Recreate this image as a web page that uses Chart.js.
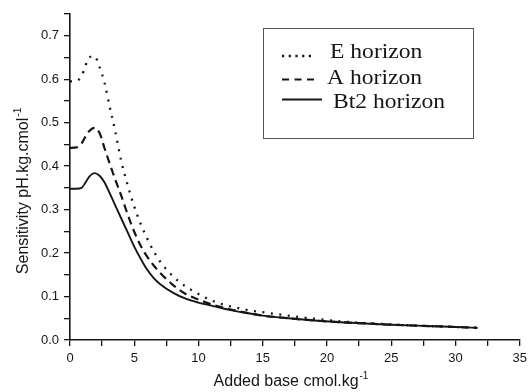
<!DOCTYPE html>
<html><head><meta charset="utf-8">
<script src="https://cdn.jsdelivr.net/npm/chart.js@4"></script>
<style>html,body{margin:0;padding:0;background:#fff}#wrap{width:532px;height:392px}</style>
</head><body><div id="wrap"><canvas id="c" width="532" height="392"></canvas></div>
<script>
// Added base (cmol/kg)
const addedBase = [0, 0.5, 0.9, 1.2, 1.5, 1.9, 2.3, 2.7, 3.1, 3.5, 4, 4.5, 5, 5.5, 6, 6.5, 7, 8, 9, 10, 11, 12, 13, 14, 15, 17, 19, 21, 23, 25, 27, 29, 31.7];
// Sensitivity (pH.kg/cmol)
const eHorizon   = [0.595, 0.596, 0.607, 0.631, 0.650, 0.653, 0.628, 0.590, 0.535, 0.483, 0.410, 0.355, 0.307, 0.267, 0.234, 0.205, 0.181, 0.147, 0.123, 0.106, 0.091, 0.081, 0.074, 0.068, 0.064, 0.056, 0.049, 0.043, 0.039, 0.036, 0.033, 0.031, 0.028];
const aHorizon   = [0.442, 0.443, 0.452, 0.468, 0.481, 0.488, 0.476, 0.440, 0.405, 0.371, 0.331, 0.288, 0.249, 0.217, 0.192, 0.172, 0.155, 0.127, 0.106, 0.093, 0.082, 0.074, 0.067, 0.061, 0.056, 0.050, 0.045, 0.041, 0.038, 0.035, 0.033, 0.031, 0.028];
const bt2Horizon = [0.348, 0.348, 0.350, 0.362, 0.376, 0.384, 0.378, 0.362, 0.337, 0.311, 0.279, 0.247, 0.215, 0.187, 0.162, 0.143, 0.129, 0.109, 0.095, 0.086, 0.079, 0.072, 0.066, 0.061, 0.056, 0.050, 0.045, 0.041, 0.038, 0.035, 0.033, 0.031, 0.028];
const seriesNames = ['E horizon', 'A horizon', 'Bt2 horizon'];
const xTitle = ['Added base cmol.kg', '-1'];
const yTitle = ['Sensitivity pH.kg.cmol', '-1'];

const INK = '#161616';
const pts = ys => addedBase.map((x, i) => ({x, y: ys[i]}));

const styles = [
  {borderDash: [2, 6.5], borderWidth: 2.3, legendDash: [2.2, 4.5]},
  {borderDash: [8, 5], borderWidth: 2.2, legendDash: [7, 5.5]},
  {borderDash: [], borderWidth: 1.9, legendDash: []}
];

const titlesPlugin = {
  id: 'titles',
  afterDraw(chart) {
    const ctx = chart.ctx;
    function supText(main, sup, size) {
      ctx.font = size + 'px "Liberation Sans", Arial, sans-serif';
      const w1 = ctx.measureText(main).width;
      ctx.font = Math.round(size * 0.62) + 'px "Liberation Sans", Arial, sans-serif';
      const w2 = ctx.measureText(sup).width;
      const start = -(w1 + w2 + 1) / 2;
      ctx.font = size + 'px "Liberation Sans", Arial, sans-serif';
      ctx.fillText(main, start, 0);
      ctx.font = Math.round(size * 0.62) + 'px "Liberation Sans", Arial, sans-serif';
      ctx.fillText(sup, start + w1 + 1, -size * 0.45);
    }
    ctx.save();
    ctx.fillStyle = INK;
    ctx.textBaseline = 'alphabetic';
    ctx.textAlign = 'left';
    ctx.save();
    ctx.translate(291, 386);
    supText(xTitle[0], xTitle[1], 16);
    ctx.restore();
    ctx.save();
    ctx.translate(28, 191);
    ctx.rotate(-Math.PI / 2);
    supText(yTitle[0], yTitle[1], 16);
    ctx.restore();
    ctx.restore();
  }
};

const legendPlugin = {
  id: 'boxLegend',
  afterDraw(chart) {
    const ctx = chart.ctx;
    ctx.save();
    ctx.strokeStyle = '#555';
    ctx.lineWidth = 1;
    ctx.strokeRect(263.5, 28.5, 210, 110);
    const rows = [
      {sy: 56, x0: 282, x1: 311, tx: 330, ty: 58},
      {sy: 79.5, x0: 282, x1: 319, tx: 327, ty: 84},
      {sy: 99.5, x0: 282, x1: 322, tx: 333, ty: 107.5}
    ];
    chart.data.datasets.forEach((ds, i) => {
      const r = rows[i];
      ctx.strokeStyle = ds.borderColor;
      ctx.lineWidth = styles[i].borderWidth;
      ctx.setLineDash(styles[i].legendDash);
      ctx.beginPath();
      ctx.moveTo(r.x0, r.sy);
      ctx.lineTo(r.x1, r.sy);
      ctx.stroke();
      ctx.setLineDash([]);
      ctx.save();
      ctx.fillStyle = INK;
      ctx.font = '20px "Liberation Serif", "Times New Roman", serif';
      ctx.textBaseline = 'alphabetic';
      ctx.textAlign = 'left';
      ctx.translate(r.tx, r.ty);
      ctx.scale(1.18, 1);
      ctx.fillText(ds.label, 0, 0);
      ctx.restore();
    });
    ctx.restore();
  }
};

const seriesData = [eHorizon, aHorizon, bt2Horizon];
new Chart(document.getElementById('c'), {
  type: 'line',
  data: {
    datasets: seriesData.map((ys, i) => ({
      label: seriesNames[i],
      data: pts(ys),
      borderColor: INK,
      borderWidth: styles[i].borderWidth,
      borderDash: styles[i].borderDash,
      pointRadius: 0,
      fill: false,
      cubicInterpolationMode: 'monotone'
    }))
  },
  options: {
    responsive: false,
    animation: false,
    devicePixelRatio: 1,
    layout: {padding: {top: 14, right: 9, left: 0, bottom: 0}},
    plugins: {legend: {display: false}, tooltip: {enabled: false}},
    scales: {
      x: {
        type: 'linear', min: 0, max: 35,
        afterFit: s => { s.height = 52; },
        ticks: {
          stepSize: 2.5, autoSkip: false, maxRotation: 0, padding: 5, color: INK,
          font: {family: '"Liberation Sans", Arial, sans-serif', size: 13},
          callback: v => (Math.abs(v / 5 - Math.round(v / 5)) < 1e-6 ? String(v) : '')
        },
        grid: {drawOnChartArea: false, drawTicks: true, tickLength: 6, color: INK, lineWidth: 1.3},
        border: {display: true, color: INK, width: 1.6}
      },
      y: {
        type: 'linear', min: 0, max: 0.75,
        afterFit: s => { s.width = 70; },
        ticks: {
          stepSize: 0.05, autoSkip: false, padding: 5, color: INK,
          font: {family: '"Liberation Sans", Arial, sans-serif', size: 13},
          callback: v => (Math.abs(v * 10 - Math.round(v * 10)) < 1e-6 ? v.toFixed(1) : '')
        },
        grid: {drawOnChartArea: false, drawTicks: true, tickLength: 6, color: INK, lineWidth: 1.3},
        border: {display: true, color: INK, width: 1.6}
      }
    }
  },
  plugins: [titlesPlugin, legendPlugin]
});
</script></body></html>
